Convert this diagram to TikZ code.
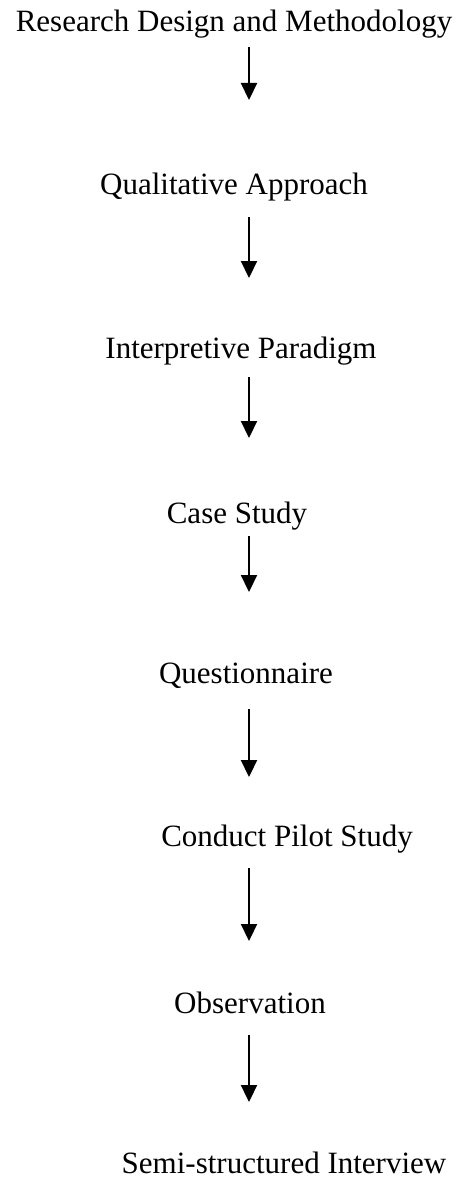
\documentclass[tikz,border=0pt]{standalone}
\usepackage{fontspec}
\setmainfont{Liberation Serif}
\usetikzlibrary{arrows.meta}

\begin{document}
\begin{tikzpicture}[x=1pt,y=-1pt,
    step label/.style={inner sep=0pt,anchor=base,font=\fontsize{31pt}{37pt}\selectfont},
    flow/.style={line width=2.2pt,-{Triangle[width=16pt,length=17pt]}}]
    \useasboundingbox (0,0) rectangle (467,1180);

    % Steps of the research design
    \node (research) at (234,32) [step label] {Research Design and Methodology};
    \node (qualitative) at (234,194) [step label] {Qualitative Approach};
    \node (interpretive) at (241,358) [step label] {Interpretive Paradigm};
    \node (casestudy) at (237,523) [step label] {Case Study};
    \node (questionnaire) at (246,683) [step label] {Questionnaire};
    \node (pilot) at (287,846) [step label] {Conduct Pilot Study};
    \node (observation) at (250,1013) [step label] {Observation};
    \node (interview) at (284,1173) [step label] {Semi-structured Interview};

    % Arrows down the middle
    \coordinate (spine) at (249,0);
    \draw[flow,shorten <=15pt,shorten >=94pt] (research.base -| spine) -- (qualitative.base -| spine);
    \draw[flow,shorten <=23pt,shorten >=80pt] (qualitative.base -| spine) -- (interpretive.base -| spine);
    \draw[flow,shorten <=19pt,shorten >=85pt] (interpretive.base -| spine) -- (casestudy.base -| spine);
    \draw[flow,shorten <=13pt,shorten >=91pt] (casestudy.base -| spine) -- (questionnaire.base -| spine);
    \draw[flow,shorten <=26pt,shorten >=69pt] (questionnaire.base -| spine) -- (pilot.base -| spine);
    \draw[flow,shorten <=22pt,shorten >=72pt] (pilot.base -| spine) -- (observation.base -| spine);
    \draw[flow,shorten <=22pt,shorten >=71pt] (observation.base -| spine) -- (interview.base -| spine);

\end{tikzpicture}
\end{document}
